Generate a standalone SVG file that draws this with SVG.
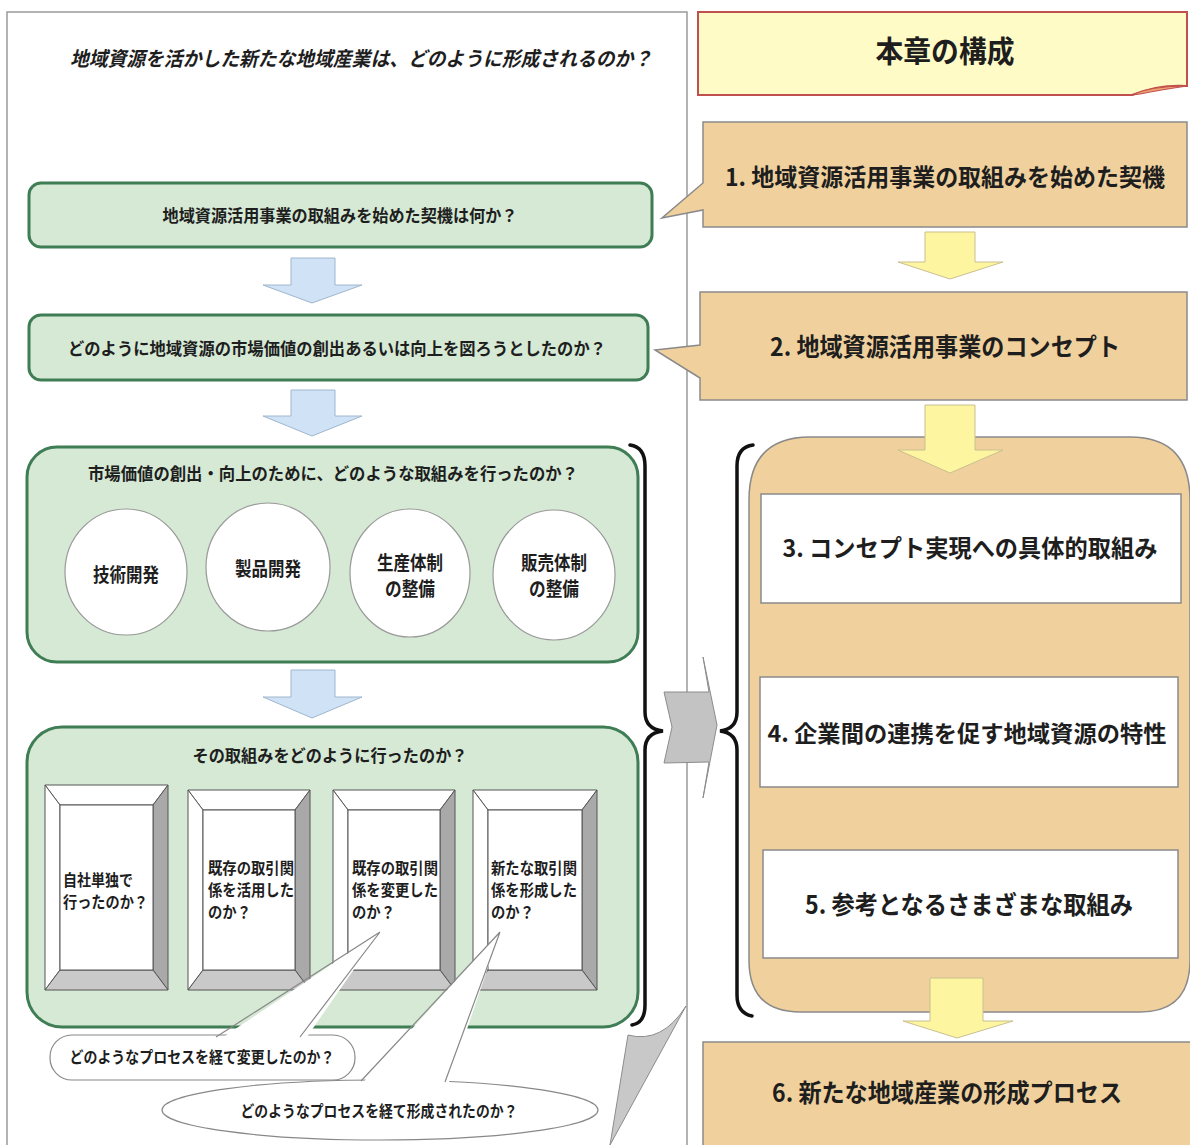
<svg xmlns="http://www.w3.org/2000/svg" width="1190" height="1145" viewBox="0 0 1190 1145">
<style>
text{font-family:"Noto Sans CJK JP","Noto Sans CJK SC",sans-serif;font-weight:700;fill:#1e1e1e;}
.gbox{fill:#d5e9d5;stroke:#3f7d55;stroke-width:3;}
.circ{fill:#fff;stroke:#999;stroke-width:1.2;}
.tan{fill:#f0d19d;stroke:#8a8a8a;stroke-width:1.5;}
.wbox{fill:#fff;stroke:#8a8a8a;stroke-width:1.5;}
.barrow{fill:#cfe2f6;stroke:#9fb6cc;stroke-width:1;}
.yarrow{fill:#fdf5a0;stroke:#c9c090;stroke-width:1;}
.brace{fill:none;stroke:#111;stroke-width:3.5;stroke-linecap:round;}
.bl{fill:#fff;stroke:#555;stroke-width:1;}
.bd{fill:#a9a9a9;stroke:#555;stroke-width:1;}
.bb{fill:#c9c9c9;stroke:#555;stroke-width:1;}
.co{fill:#fff;stroke:#888;stroke-width:1.2;}
.cl{stroke:#888;stroke-width:1.2;fill:none;}
.t17{font-size:17px;}
.t16{font-size:16px;}
.tc{text-anchor:middle;}
</style>

<g id="left-panel">
  <path d="M7,1145 L7,12 L687,12 L687,1145" fill="none" stroke="#9a9a9a" stroke-width="1.5"/>
  <text x="361" y="66" font-size="20" font-style="italic" class="tc" textLength="582" lengthAdjust="spacingAndGlyphs">地域資源を活かした新たな地域産業は、どのように形成されるのか？</text>
</g>

<g id="q1">
  <rect x="29" y="183" width="623" height="64" rx="12" class="gbox"/>
  <text x="340" y="222" class="t17 tc" textLength="355" lengthAdjust="spacingAndGlyphs">地域資源活用事業の取組みを始めた契機は何か？</text>
</g>
<g id="q2">
  <rect x="29" y="315" width="619" height="65" rx="12" class="gbox"/>
  <text x="337" y="355" class="t17 tc" textLength="538" lengthAdjust="spacingAndGlyphs">どのように地域資源の市場価値の創出あるいは向上を図ろうとしたのか？</text>
</g>
<g id="q3">
  <rect x="27" y="447" width="611" height="215" rx="30" class="gbox"/>
  <text x="333" y="480" class="t17 tc" textLength="490" lengthAdjust="spacingAndGlyphs">市場価値の創出・向上のために、どのような取組みを行ったのか？</text>
</g>
<g id="c1">
  <ellipse cx="126" cy="572" rx="61" ry="63" class="circ"/>
  <text x="126" y="582" font-size="19" class="tc" textLength="66" lengthAdjust="spacingAndGlyphs">技術開発</text>
</g>
<g id="c2">
  <ellipse cx="268" cy="567" rx="62" ry="64" class="circ"/>
  <text x="268" y="576" font-size="19" class="tc" textLength="66" lengthAdjust="spacingAndGlyphs">製品開発</text>
</g>
<g id="c3">
  <ellipse cx="410" cy="573" rx="60" ry="64" class="circ"/>
  <text x="410" y="570" font-size="19" class="tc" textLength="66" lengthAdjust="spacingAndGlyphs">生産体制</text>
  <text x="410" y="596" font-size="19" class="tc" textLength="50" lengthAdjust="spacingAndGlyphs">の整備</text>
</g>
<g id="c4">
  <ellipse cx="554" cy="575" rx="61" ry="65" class="circ"/>
  <text x="554" y="570" font-size="19" class="tc" textLength="66" lengthAdjust="spacingAndGlyphs">販売体制</text>
  <text x="554" y="596" font-size="19" class="tc" textLength="50" lengthAdjust="spacingAndGlyphs">の整備</text>
</g>

<g id="q4">
  <rect x="27" y="727" width="611" height="300" rx="35" class="gbox"/>
  <text x="330" y="762" class="t17 tc" textLength="275" lengthAdjust="spacingAndGlyphs">その取組みをどのように行ったのか？</text>
</g>

<g id="b1">
  <polygon points="45,785 168,785 153,805 60,805" class="bl"/>
  <polygon points="45,785 60,805 60,970 45,990" class="bl"/>
  <polygon points="168,785 168,990 153,970 153,805" class="bd"/>
  <polygon points="45,990 60,970 153,970 168,990" class="bb"/>
  <rect x="60" y="805" width="93" height="165" fill="#fff" stroke="#555" stroke-width="1"/>
  <text x="63" y="886" class="t16" textLength="70" lengthAdjust="spacingAndGlyphs">自社単独で</text>
  <text x="63" y="908" class="t16" textLength="85" lengthAdjust="spacingAndGlyphs">行ったのか？</text>
</g>
<g id="b2">
  <polygon points="188,790 310,790 295,810 203,810" class="bl"/>
  <polygon points="188,790 203,810 203,970 188,990" class="bl"/>
  <polygon points="310,790 310,990 295,970 295,810" class="bd"/>
  <polygon points="188,990 203,970 295,970 310,990" class="bb"/>
  <rect x="203" y="810" width="92" height="160" fill="#fff" stroke="#555" stroke-width="1"/>
  <text x="208" y="874" class="t16" textLength="86" lengthAdjust="spacingAndGlyphs">既存の取引関</text>
  <text x="208" y="896" class="t16" textLength="86" lengthAdjust="spacingAndGlyphs">係を活用した</text>
  <text x="208" y="918" class="t16" textLength="43" lengthAdjust="spacingAndGlyphs">のか？</text>
</g>
<g id="b3">
  <polygon points="333,790 455,790 440,810 348,810" class="bl"/>
  <polygon points="333,790 348,810 348,970 333,990" class="bl"/>
  <polygon points="455,790 455,990 440,970 440,810" class="bd"/>
  <polygon points="333,990 348,970 440,970 455,990" class="bb"/>
  <rect x="348" y="810" width="92" height="160" fill="#fff" stroke="#555" stroke-width="1"/>
  <text x="352" y="874" class="t16" textLength="86" lengthAdjust="spacingAndGlyphs">既存の取引関</text>
  <text x="352" y="896" class="t16" textLength="86" lengthAdjust="spacingAndGlyphs">係を変更した</text>
  <text x="352" y="918" class="t16" textLength="43" lengthAdjust="spacingAndGlyphs">のか？</text>
</g>
<g id="b4">
  <polygon points="473,790 597,790 582,810 488,810" class="bl"/>
  <polygon points="473,790 488,810 488,970 473,990" class="bl"/>
  <polygon points="597,790 597,990 582,970 582,810" class="bd"/>
  <polygon points="473,990 488,970 582,970 597,990" class="bb"/>
  <rect x="488" y="810" width="94" height="160" fill="#fff" stroke="#555" stroke-width="1"/>
  <text x="491" y="874" class="t16" textLength="86" lengthAdjust="spacingAndGlyphs">新たな取引関</text>
  <text x="491" y="896" class="t16" textLength="86" lengthAdjust="spacingAndGlyphs">係を形成した</text>
  <text x="491" y="918" class="t16" textLength="43" lengthAdjust="spacingAndGlyphs">のか？</text>
</g>

<g id="callout1">
  <rect x="50" y="1035" width="305" height="45" rx="22" class="co"/>
  <polygon points="380,932 213,1044 302,1044" fill="#fff"/>
  <path d="M380,932 L216,1037 M380,932 L300,1037" class="cl"/>
  <text x="202" y="1063" class="t16 tc" textLength="265" lengthAdjust="spacingAndGlyphs">どのようなプロセスを経て変更したのか？</text>
</g>
<g id="callout2">
  <ellipse cx="380" cy="1110" rx="218" ry="30" class="co"/>
  <polygon points="500,932 358,1088 447,1088" fill="#fff"/>
  <path d="M500,932 L361,1081 M500,932 L445,1082" class="cl"/>
  <text x="379" y="1117" class="t16 tc" textLength="277" lengthAdjust="spacingAndGlyphs">どのようなプロセスを経て形成されたのか？</text>
</g>

<g id="header">
  <path d="M698,12 L1187,12 L1187,86 Q1160,84 1132,95 L698,95 Z" fill="#fffbc6" stroke="#c0504d" stroke-width="2"/>
  <path d="M1132,95 Q1150,86 1187,86 Q1160,90 1140,94 Z" fill="#f0a070" stroke="#c0504d" stroke-width="1"/>
  <text x="945" y="62" font-size="30" class="tc" textLength="139" lengthAdjust="spacingAndGlyphs">本章の構成</text>
</g>
<g id="s1">
  <path d="M703,122 L1187,122 L1187,227 L703,227 L703,210 L662,218 L703,183 Z" class="tan"/>
  <text x="945" y="186" font-size="24" class="tc" textLength="440" lengthAdjust="spacingAndGlyphs">1. 地域資源活用事業の取組みを始めた契機</text>
</g>
<g id="s2">
  <path d="M700,292 L1187,292 L1187,400 L700,400 L700,378 L655,350 L700,345 Z" class="tan"/>
  <text x="945" y="356" font-size="25" class="tc" textLength="350" lengthAdjust="spacingAndGlyphs">2. 地域資源活用事業のコンセプト</text>
</g>
<g id="container">
  <path d="M810,437 L1130,437 Q1190,437 1190,500 L1190,960 Q1190,1012 1140,1012 L800,1012 Q749,1012 749,960 L749,500 Q749,437 810,437 Z" class="tan"/>
</g>
<g id="s3">
  <rect x="761" y="494" width="420" height="109" class="wbox"/>
  <text x="970" y="557" font-size="24" class="tc" textLength="375" lengthAdjust="spacingAndGlyphs">3. コンセプト実現への具体的取組み</text>
</g>
<g id="s4">
  <rect x="760" y="677" width="418" height="110" class="wbox"/>
  <text x="967" y="742" font-size="23" class="tc" textLength="399" lengthAdjust="spacingAndGlyphs">4. 企業間の連携を促す地域資源の特性</text>
</g>
<g id="s5">
  <rect x="763" y="850" width="415" height="108" class="wbox"/>
  <text x="969" y="914" font-size="25" class="tc" textLength="328" lengthAdjust="spacingAndGlyphs">5. 参考となるさまざまな取組み</text>
</g>
<g id="s6">
  <rect x="703" y="1042" width="490" height="110" class="tan"/>
  <text x="947" y="1102" font-size="25" class="tc" textLength="350" lengthAdjust="spacingAndGlyphs">6. 新たな地域産業の形成プロセス</text>
</g>

<g id="connectors">
  <polygon points="291,258 335,258 335,285 362,285 312,303 263,285 291,285" class="barrow"/>
  <polygon points="291,390 335,390 335,416 362,416 312,436 263,416 291,416" class="barrow"/>
  <polygon points="291,670 335,670 335,697 362,697 312,718 263,697 291,697" class="barrow"/>
  <polygon points="925,232 975,232 975,262 1003,262 950,279 898,262 925,262" class="yarrow"/>
  <polygon points="925,405 975,405 975,450 1003,450 950,473 898,450 925,450" class="yarrow"/>
  <polygon points="930,978 983,978 983,1021 1013,1021 957,1038 903,1021 930,1021" class="yarrow"/>
  <path class="brace" d="M630,445 Q645,447 645,466 L645,712 Q645,729 663,731 Q645,733 645,750 L645,1005 Q645,1023 632,1025"/>
  <path class="brace" d="M753,445 Q737,447 737,466 L737,712 Q737,729 720,731 Q737,733 737,750 L737,995 Q737,1013 752,1016"/>
  <polygon points="664,692 709,692 703,657 717,725 703,798 709,762 664,763 672,727" fill="#c3c3c3" stroke="#8c8c8c" stroke-width="1"/>
  <path d="M628,1035 Q662,1044 686,1006 L610,1145 Z" fill="#c8c8c8" stroke="#8c8c8c" stroke-width="1"/>
</g>
</svg>
